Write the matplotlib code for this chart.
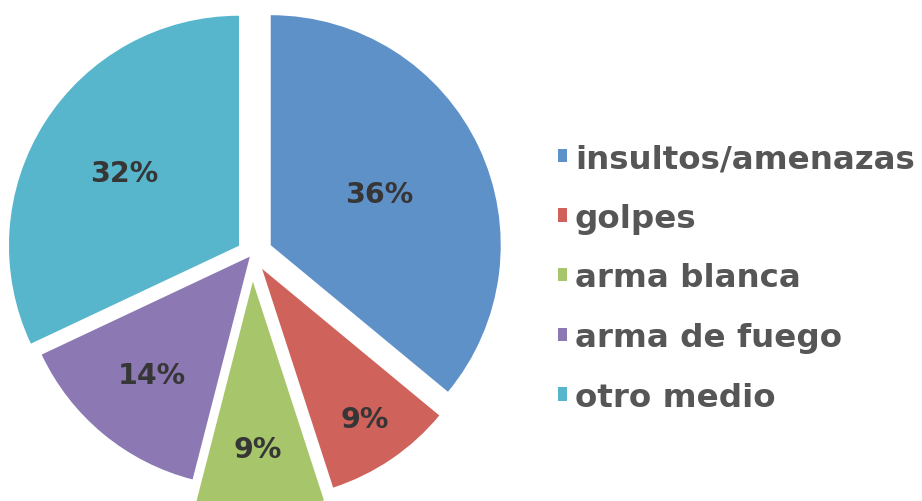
import numpy as np
import matplotlib.pyplot as plt

categories = ["insultos/amenazas", "golpes", "arma blanca", "arma de fuego", "otro medio"]
values = [36, 9, 9, 14, 32]
colors = ["#5f91c9", "#cf625b", "#a7c56a", "#8c78b3", "#58b6cc"]
explode = [0.09, 0.078, 0.12, 0.015, 0.067]
label_dist = [0.52, 0.79, 0.73, 0.67, 0.59]

W, H = 922, 502
fig = plt.figure(figsize=(W / 100, H / 100), dpi=100)

# pie center and radius in pixels
cx, cy, R = 252, H - 255, 230.0
ax = fig.add_axes([0, 0, 510 / W, 1])

wedges, texts, autotexts = ax.pie(values, colors=colors, explode=explode,
                                  startangle=90, counterclock=False,
                                  autopct="%d%%", pctdistance=0.6,
                                  wedgeprops=dict(linewidth=0))
ax.set_aspect("auto")
ax.set_xlim((0 - cx) / R, (510 - cx) / R)
ax.set_ylim((0 - cy) / R, (H - cy) / R)
ax.axis("off")

for w, t, ex, d in zip(wedges, autotexts, explode, label_dist):
    ang = np.deg2rad((w.theta1 + w.theta2) / 2)
    t.set_position(((ex + d) * np.cos(ang), (ex + d) * np.sin(ang)))
    t.set_fontsize(20.5)
    t.set_fontweight("bold")
    t.set_color("#363636")

leg = fig.legend(wedges, categories, loc="upper left",
                 bbox_to_anchor=(529 / W, 1 - 115 / H),
                 frameon=False, handlelength=0.26, handleheight=0.26,
                 handletextpad=0.25, labelspacing=0.88,
                 prop=dict(family="DejaVu Sans", weight="bold", size=23.4))
for txt in leg.get_texts():
    txt.set_color("#565656")

fig.savefig("out.png", dpi=100)
